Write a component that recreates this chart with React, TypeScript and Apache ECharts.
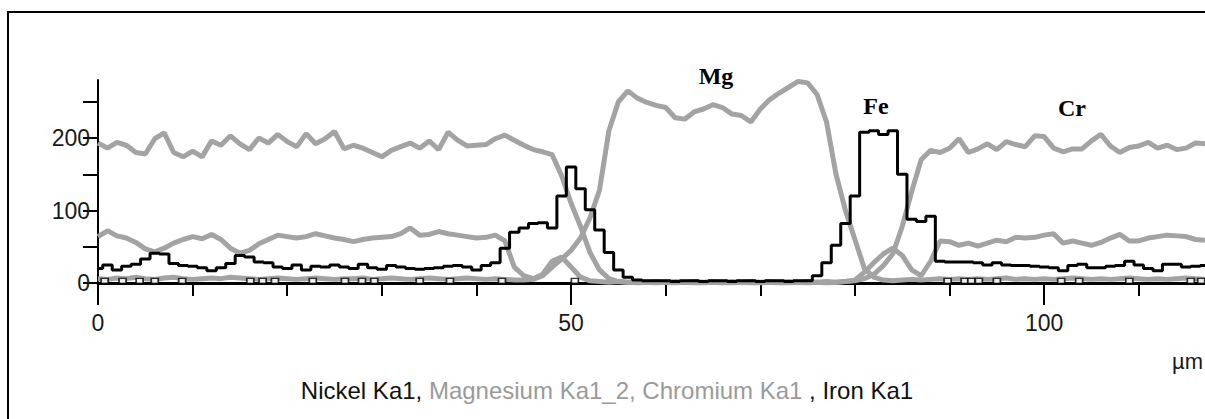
import React, { useEffect, useRef } from "react";
import * as echarts from "echarts";

// Line-scan sample positions (µm)
const positionsUm: number[] = Array.from({ length: 118 }, (_, i) => i);

const chromium: number[] = [
  193, 186, 194, 190, 180, 178, 199, 207, 180, 174, 182, 174, 196, 190, 203, 192, 184, 200, 193, 205,
  195, 188, 206, 192, 199, 209, 185, 190, 186, 180, 174, 183, 188, 193, 186, 196, 184, 208, 197, 189,
  190, 191, 199, 204, 197, 190, 184, 181, 177, 148, 110, 78, 42, 18, 6, 2, 1, 0, 1, 0,
  1, 0, 1, 0, 0, 1, 0, 0, 1, 0, 0, 1, 0, 0, 1, 0, 1, 0, 1, 2,
  3, 6, 12, 24, 40, 78, 126, 170, 183, 180, 186, 199, 180, 185, 192, 184, 195, 191, 188, 203,
  202, 186, 181, 185, 185, 196, 205, 189, 180, 187, 189, 194, 186, 190, 184, 186, 193, 192,
];

const magnesium: number[] = [
  6, 5, 7, 6, 8, 6, 5, 7, 8, 6, 5, 6, 7, 6, 8, 7, 6, 5, 6, 7,
  6, 5, 6, 7, 6, 5, 6, 6, 7, 5, 6, 7, 6, 5, 6, 7, 6, 5, 6, 7,
  6, 5, 6, 5, 4, 4, 5, 10, 22, 33, 45, 62, 90, 128, 210, 250, 265, 255, 249, 245,
  242, 228, 226, 236, 240, 246, 242, 233, 231, 222, 240, 253, 262, 270, 278, 276, 260, 222, 150, 100,
  60, 20, 8, 4, 3, 4, 5, 4, 5, 6, 5, 6, 5, 6, 5, 6, 7, 5, 6, 5,
  6, 5, 6, 7, 6, 5, 6, 5, 6, 7, 6, 5, 6, 5, 6, 7, 6, 5,
];

const chromiumLow: number[] = [
  64, 72, 65, 62, 56, 47, 43, 48, 55, 60, 64, 61, 67, 60, 48, 41, 45, 54, 60, 66,
  64, 62, 64, 68, 65, 62, 60, 57, 60, 62, 63, 64, 68, 76, 66, 67, 71, 68, 66, 64,
  62, 63, 66, 58, 22, 10, 6, 12, 30, 36, 22, 8, 3, 2, 1, 2, 1, 2, 1, 2,
  1, 2, 1, 2, 1, 2, 1, 2, 1, 2, 1, 2, 1, 2, 1, 2, 1, 2, 1, 2,
  4, 15, 28, 40, 48, 38, 18, 10, 30, 58, 57, 52, 55, 51, 55, 59, 57, 63, 62, 63,
  66, 68, 55, 58, 55, 52, 56, 62, 67, 58, 58, 62, 64, 66, 65, 64, 60, 59,
];

const iron: number[] = [
  20, 25, 18, 23, 26, 33, 41, 40, 27, 24, 23, 21, 17, 21, 27, 38, 36, 29, 28, 22,
  20, 25, 18, 23, 22, 25, 22, 20, 26, 21, 19, 24, 22, 20, 19, 20, 21, 23, 24, 22,
  18, 24, 28, 48, 70, 76, 82, 83, 76, 120, 160, 130, 101, 73, 42, 18, 8, 4, 3, 3,
  3, 2, 3, 3, 2, 3, 3, 2, 3, 3, 2, 3, 3, 2, 3, 3, 10, 28, 52, 82,
  120, 208, 210, 205, 210, 150, 88, 85, 92, 30, 29, 29, 29, 28, 25, 28, 25, 24, 24, 23,
  22, 21, 17, 24, 26, 21, 21, 23, 24, 30, 25, 20, 17, 26, 26, 22, 23, 24,
];

// Nickel counts sit on the baseline; small square marks where it registers
const nickelUm: number[] = [
  0.7, 2.6, 4.4, 6.0, 8.9, 16.1, 17.4, 18.7, 22.7, 26.1, 27.9, 29.2, 34.0, 37.2, 42.7, 50.4,
  89.8, 91.6, 92.3, 93.1, 95.0, 101.8, 103.7, 109.0, 115.5, 116.6,
];
const nickelCounts: number[] = [
  3, 3, 3, 3, 3, 3, 3, 3, 3, 3, 3, 3, 3, 3, 3, 3,
  3, 3, 3, 3, 3, 3, 3, 3, 3, 3,
];

const yTicks = [0, 50, 100, 150, 200, 250];
const yLabels = [0, 100, 200];
const xMinorTicks = [0, 10, 20, 30, 40, 50, 60, 70, 80, 90, 100, 110];
const xMajorTicks = [0, 50, 100];

const pairs = (ys: number[]) => positionsUm.map((x, i) => [x, ys[i]]);

const GREY = "#a3a3a3";
const SANS = "'Liberation Sans', Arial, sans-serif";
const SERIF = "'Liberation Serif', 'Times New Roman', serif";

export default function App() {
  const ref = useRef<HTMLDivElement>(null);

  useEffect(() => {
    document.body.style.margin = "0";
    const chart = echarts.init(ref.current!, null, { renderer: "svg" });

    const gridBox = { left: 98, right: 0, top: 80, bottom: 136 };

    chart.setOption({
      animation: false,
      backgroundColor: "#ffffff",
      grid: [gridBox, gridBox],
      xAxis: [
        {
          type: "value",
          gridIndex: 0,
          min: 0,
          max: 117,
          interval: 10,
          axisLine: { lineStyle: { color: "#000", width: 3 } },
          axisTick: { customValues: xMinorTicks, length: 13, lineStyle: { color: "#000", width: 2 } },
          axisLabel: { show: false },
          splitLine: { show: false },
        },
        {
          type: "value",
          gridIndex: 1,
          min: 0,
          max: 117,
          interval: 50,
          axisLine: { show: false },
          axisTick: { customValues: xMajorTicks, length: 22, lineStyle: { color: "#000", width: 2 } },
          axisLabel: {
            customValues: xMajorTicks,
            margin: 28,
            color: "#1a1a1a",
            fontSize: 23,
            fontFamily: SANS,
          },
          splitLine: { show: false },
        },
      ],
      yAxis: [
        {
          type: "value",
          gridIndex: 0,
          min: 0,
          max: 280,
          interval: 50,
          axisLine: { show: true, lineStyle: { color: "#000", width: 2 } },
          axisTick: { show: true, customValues: yTicks, length: 15, lineStyle: { color: "#000", width: 2 } },
          axisLabel: {
            customValues: yLabels,
            margin: 8,
            color: "#1a1a1a",
            fontSize: 23,
            fontFamily: SANS,
          },
          splitLine: { show: false },
        },
        {
          type: "value",
          gridIndex: 1,
          min: 0,
          max: 280,
          show: false,
        },
      ],
      series: [
        {
          name: "Chromium Ka1",
          type: "line",
          data: pairs(chromium),
          showSymbol: false,
          lineStyle: { color: GREY, width: 5 },
          z: 2,
        },
        {
          name: "Magnesium Ka1_2",
          type: "line",
          data: pairs(magnesium),
          showSymbol: false,
          lineStyle: { color: GREY, width: 5 },
          z: 2,
        },
        {
          name: "Chromium Ka1 (low)",
          type: "line",
          data: pairs(chromiumLow),
          showSymbol: false,
          lineStyle: { color: GREY, width: 5 },
          z: 2,
        },
        {
          name: "Iron Ka1",
          type: "line",
          step: "middle",
          data: pairs(iron),
          showSymbol: false,
          lineStyle: { color: "#000", width: 3 },
          z: 3,
        },
        {
          name: "Nickel Ka1",
          type: "scatter",
          data: nickelUm.map((x, i) => [x, nickelCounts[i]]),
          symbol: "rect",
          symbolSize: [7, 5],
          itemStyle: { color: "#fff", borderColor: "#000", borderWidth: 1.5 },
          z: 4,
        },
      ],
      graphic: [
        { type: "line", shape: { x1: 7, y1: 12, x2: 1205, y2: 12 }, style: { stroke: "#000", lineWidth: 2 } },
        { type: "line", shape: { x1: 8, y1: 12, x2: 8, y2: 419 }, style: { stroke: "#000", lineWidth: 2 } },
        {
          type: "text", x: 716, y: 76,
          style: { text: "Mg", font: `bold 24px ${SERIF}`, fill: "#000", align: "center", verticalAlign: "middle" },
        },
        {
          type: "text", x: 876, y: 106,
          style: { text: "Fe", font: `bold 24px ${SERIF}`, fill: "#000", align: "center", verticalAlign: "middle" },
        },
        {
          type: "text", x: 1072, y: 108,
          style: { text: "Cr", font: `bold 24px ${SERIF}`, fill: "#000", align: "center", verticalAlign: "middle" },
        },
        {
          type: "text", x: 1172, y: 361,
          style: { text: "µm", font: `22px ${SANS}`, fill: "#1a1a1a", verticalAlign: "middle" },
        },
        {
          type: "text", x: 607, y: 390,
          style: {
            text: "{k|Nickel Ka1, }{g|Magnesium Ka1_2, Chromium Ka1 }{k|, Iron Ka1}",
            align: "center",
            verticalAlign: "middle",
            rich: {
              k: { fill: "#111", fontSize: 24, fontFamily: SANS },
              g: { fill: "#9a9a9a", fontSize: 24, fontFamily: SANS },
            },
          },
        },
      ],
    });

    return () => chart.dispose();
  }, []);

  return (
    <div
      ref={ref}
      style={{ position: "absolute", left: 0, top: 0, width: 1205, height: 419 }}
    />
  );
}
